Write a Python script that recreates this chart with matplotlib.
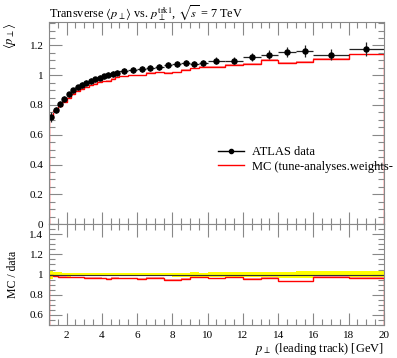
import numpy as np
import matplotlib
matplotlib.use('Agg')
import matplotlib.pyplot as plt
from matplotlib.ticker import MultipleLocator, FuncFormatter
from matplotlib.lines import Line2D

plt.rcParams['font.family'] = ['Liberation Serif', 'DejaVu Serif']
plt.rcParams['mathtext.fontset'] = 'stix'

# bin edges in leading-track pT [GeV]
edges = [1.0, 1.25, 1.5, 1.75, 2.0, 2.25, 2.5, 2.75, 3.0, 3.25, 3.5, 3.75, 4.0,
         4.25, 4.5, 4.75, 5.0, 5.5, 6.0, 6.5, 7.0, 7.5, 8.0, 8.5, 9.0, 9.5, 10.0,
         11.0, 12.0, 13.0, 14.0, 15.0, 16.0, 18.0, 20.0]

# ATLAS data: mean pT in transverse region
data_val = [0.717, 0.769, 0.807, 0.840, 0.872, 0.899, 0.919, 0.934, 0.948, 0.961,
            0.973, 0.984, 0.993, 1.002, 1.008, 1.018, 1.029, 1.035, 1.042, 1.050,
            1.054, 1.068, 1.074, 1.081, 1.074, 1.083, 1.096, 1.096, 1.122, 1.138,
            1.157, 1.164, 1.137, 1.177]
data_err = [0.033, 0.020, 0.018, 0.017, 0.017, 0.017, 0.017, 0.017, 0.017, 0.017,
            0.017, 0.017, 0.017, 0.017, 0.018, 0.018, 0.018, 0.018, 0.019, 0.019,
            0.020, 0.020, 0.021, 0.021, 0.022, 0.022, 0.023, 0.023, 0.025, 0.028,
            0.034, 0.040, 0.037, 0.047]

# MC prediction
mc_val = [0.713, 0.757, 0.791, 0.822, 0.850, 0.877, 0.894, 0.908, 0.920, 0.932,
          0.944, 0.954, 0.958, 0.962, 0.976, 0.985, 0.993, 0.999, 1.000, 1.016,
          1.020, 1.015, 1.020, 1.038, 1.047, 1.056, 1.058, 1.069, 1.077, 1.104,
          1.082, 1.088, 1.112, 1.139]
mc_err = [0.004, 0.004, 0.004, 0.004, 0.004, 0.004, 0.004, 0.004, 0.004, 0.004,
          0.004, 0.004, 0.004, 0.004, 0.004, 0.004, 0.004, 0.004, 0.004, 0.004,
          0.004, 0.004, 0.004, 0.004, 0.004, 0.004, 0.004, 0.004, 0.004, 0.004,
          0.004, 0.004, 0.004, 0.004]

edges = np.array(edges)
data_val = np.array(data_val)
data_err = np.array(data_err)
mc_val = np.array(mc_val)
mc_err = np.array(mc_err)
centers = 0.5 * (edges[1:] + edges[:-1])
halfw = 0.5 * (edges[1:] - edges[:-1])

fig = plt.figure(figsize=(3.97, 3.58), dpi=100)
ax1 = fig.add_axes([0.1234, 0.374, 0.8436, 0.5645])
ax2 = fig.add_axes([0.1234, 0.0922, 0.8436, 0.2818])

spine_col = '#888888'


def style(ax):
    for s in ax.spines.values():
        s.set_color(spine_col)
        s.set_linewidth(0.8)
    ax.tick_params(which='both', direction='in', top=True, right=True,
                   color=spine_col, labelsize=8, pad=4)
    ax.tick_params(which='major', length=9, width=0.8)
    ax.tick_params(which='minor', length=4.5, width=0.8)
    ax.xaxis.set_major_locator(MultipleLocator(2))
    ax.xaxis.set_minor_locator(MultipleLocator(0.5))
    ax.yaxis.set_major_locator(MultipleLocator(0.2))
    ax.yaxis.set_minor_locator(MultipleLocator(0.05))
    ax.yaxis.set_major_formatter(FuncFormatter(lambda v, p: '%g' % round(v, 3)))
    ax.set_xlim(1, 20)


# main panel
ax1.stairs(mc_val + mc_err, edges, baseline=mc_val - mc_err, fill=True,
           color='#ffa0a0', lw=0)
ax1.stairs(mc_val, edges, color='red', lw=1.0)
ax1.errorbar(centers, data_val, xerr=halfw, yerr=data_err, fmt='o', ms=3.6,
             color='black', ecolor='#222222', elinewidth=0.9, capsize=0)
style(ax1)
ax1.set_ylim(0, 1.357)
ax1.tick_params(axis='x', labelbottom=False)

ax1.text(0.0, 1.024, r'Transverse $\langle p_\perp \rangle$ vs. $p_\perp^{\mathrm{trk1}}$, $\sqrt{s}$ = 7 TeV',
         transform=ax1.transAxes, fontsize=8.8, ha='left', va='baseline')
ax1.set_ylabel(r'$\langle p_\perp \rangle$', fontsize=9, loc='top', labelpad=8)

handles = [Line2D([], [], color='black', lw=1, marker='o', ms=3),
           Line2D([], [], color='red', lw=1)]
ax1.legend(handles, ['ATLAS data', 'MC (tune-analyses.weights-'],
           loc='upper left', bbox_to_anchor=(0.49, 0.41), frameon=False,
           fontsize=9, handlelength=2.1, handletextpad=0.65,
           labelspacing=0.2, borderaxespad=0)

# ratio panel
ratio_err = data_err / data_val
mc_ratio = mc_val / data_val
mc_ratio_err = mc_err / data_val
ax2.stairs(1 + ratio_err, edges, baseline=1 - ratio_err, fill=True,
           color='#ffff00', lw=0)
ax2.axhline(1.0, color='#333333', lw=0.8)
ax2.stairs(mc_ratio + mc_ratio_err, edges, baseline=mc_ratio - mc_ratio_err,
           fill=True, color='#ffa0a0', lw=0)
ax2.stairs(mc_ratio, edges, color='red', lw=1.0)
style(ax2)
ax2.set_ylim(0.5, 1.5)
ax2.set_yticks([0.6, 0.8, 1.0, 1.2, 1.4])
ax2.set_ylabel('MC / data', fontsize=8.5)
ax2.yaxis.set_label_coords(-0.09, 0.5)
ax2.text(1.0, -0.27, r'$p_\perp$ (leading track) [GeV]', transform=ax2.transAxes,
         fontsize=9, ha='right', va='baseline')

fig.savefig('out.png', dpi=100)
